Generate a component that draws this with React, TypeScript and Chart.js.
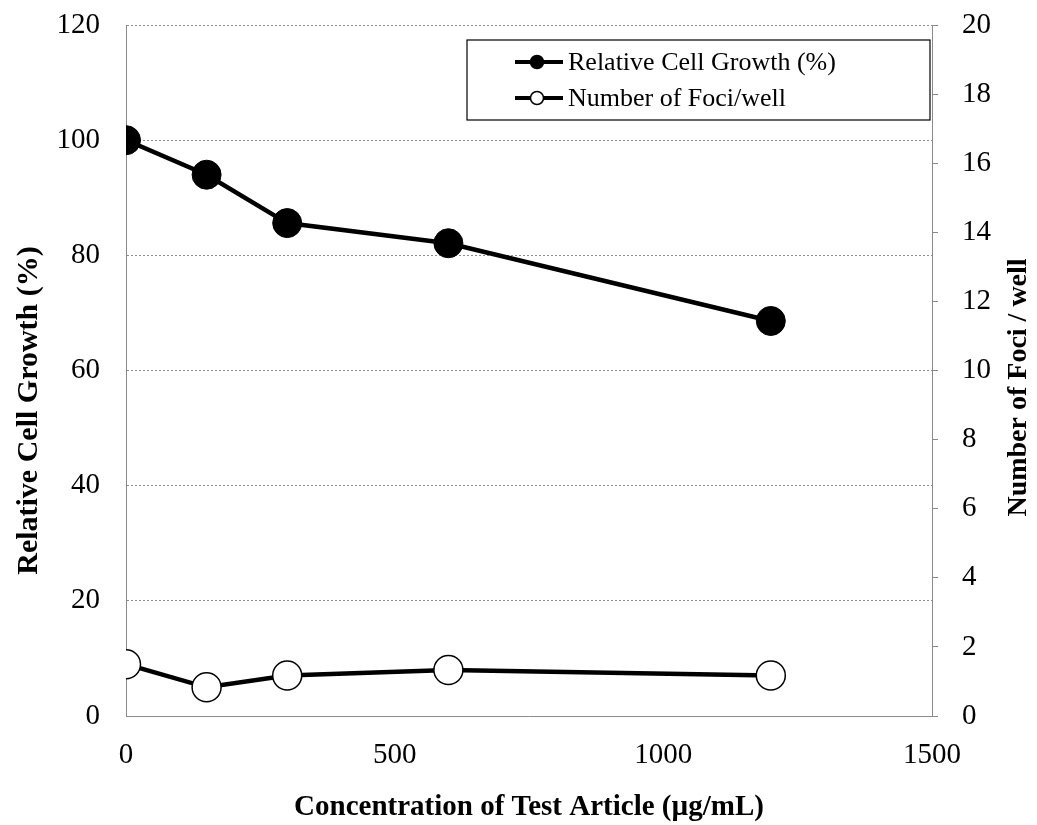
import React, { useEffect, useRef } from "react";
import { Chart, registerables } from "chart.js";

Chart.register(...registerables);

const concentrations = [0, 150, 300, 600, 1200];
const relativeGrowth = [100, 94, 85.6, 82.1, 68.6];
const fociPerWell = [1.5, 0.83, 1.17, 1.33, 1.17];
const xTicks = [0, 500, 1000, 1500];
const growthLabel = "Relative Cell Growth (%)";
const fociLabel = "Number of Foci/well";
const leftTitle = "Relative Cell Growth (%)";
const rightTitle = "Number of Foci / well";
const bottomTitle = "Concentration of Test Article (µg/mL)";

const SERIF = "'Liberation Serif', 'Times New Roman', serif";

const legendPlugin = {
  id: "boxLegend",
  afterDraw(chart: any) {
    const ctx = chart.ctx;
    const ca = chart.chartArea;
    const x0 = ca.left + 341;
    const y0 = ca.top + 15;
    const w = ca.right - 2 - x0;
    const h = 80;
    ctx.save();
    ctx.fillStyle = "#fff";
    ctx.fillRect(x0, y0, w, h);
    ctx.strokeStyle = "#000";
    ctx.lineWidth = 1.2;
    ctx.strokeRect(x0, y0, w, h);
    const items = [
      { label: growthLabel, fill: "#000" },
      { label: fociLabel, fill: "#fff" },
    ];
    items.forEach((it, i) => {
      const cy = y0 + 22 + i * 36;
      const lx = x0 + 48;
      ctx.strokeStyle = "#000";
      ctx.lineWidth = 4;
      ctx.beginPath();
      ctx.moveTo(lx, cy);
      ctx.lineTo(lx + 48, cy);
      ctx.stroke();
      ctx.beginPath();
      ctx.arc(lx + 22, cy, 6.5, 0, Math.PI * 2);
      ctx.fillStyle = it.fill;
      ctx.fill();
      ctx.lineWidth = 1.5;
      ctx.stroke();
      ctx.fillStyle = "#000";
      ctx.font = "26px " + SERIF;
      ctx.textAlign = "left";
      ctx.textBaseline = "middle";
      ctx.fillText(it.label, lx + 53, cy + 1);
    });
    ctx.restore();
  },
};

const yTitlesPlugin = {
  id: "yTitles",
  afterDraw(chart: any) {
    const ctx = chart.ctx;
    const ca = chart.chartArea;
    const mid = (ca.top + ca.bottom) / 2;
    ctx.save();
    ctx.fillStyle = "#000";
    ctx.textAlign = "center";
    ctx.textBaseline = "middle";
    ctx.save();
    ctx.translate(29, mid + 40);
    ctx.rotate(-Math.PI / 2);
    ctx.font = "bold 30px " + SERIF;
    ctx.fillText(leftTitle, 0, 0);
    ctx.restore();
    ctx.save();
    ctx.translate(chart.width - 18, mid + 17);
    ctx.rotate(-Math.PI / 2);
    ctx.font = "bold 28px " + SERIF;
    ctx.fillText(rightTitle, 0, 0);
    ctx.restore();
    ctx.restore();
  },
};

const fixVertical = (width: number) => (s: any) => {
  s.width = width;
  s.paddingTop = 25;
  s.paddingBottom = 0;
};

export default function App() {
  const ref = useRef<HTMLCanvasElement | null>(null);
  useEffect(() => {
    document.body.style.margin = "0";
    const canvas = ref.current;
    if (!canvas) return;
    const chart = new Chart(canvas, {
      type: "line",
      data: {
        datasets: [
          {
            label: growthLabel,
            data: concentrations.map((c, i) => ({ x: c, y: relativeGrowth[i] })),
            yAxisID: "y",
            borderColor: "#000",
            borderWidth: 4.5,
            backgroundColor: "#000",
            pointBackgroundColor: "#000",
            pointBorderColor: "#000",
            pointRadius: 14.5,
            pointBorderWidth: 1,
            tension: 0,
          },
          {
            label: fociLabel,
            data: concentrations.map((c, i) => ({ x: c, y: fociPerWell[i] })),
            yAxisID: "y1",
            borderColor: "#000",
            borderWidth: 4.5,
            backgroundColor: "#fff",
            pointBackgroundColor: "#fff",
            pointBorderColor: "#000",
            pointRadius: 14.5,
            pointBorderWidth: 1.5,
            tension: 0,
          },
        ],
      },
      options: {
        animation: false,
        responsive: false,
        maintainAspectRatio: false,
        layout: { padding: { top: 0, left: 0, right: 0, bottom: 0 } },
        plugins: {
          legend: { display: false },
          tooltip: { enabled: false },
        },
        scales: {
          x: {
            type: "linear",
            min: 0,
            max: 1500,
            afterFit: (s: any) => {
              s.height = 109;
            },
            afterBuildTicks: (s: any) => {
              s.ticks = xTicks.map((v) => ({ value: v }));
            },
            grid: { display: false, drawTicks: false },
            border: { display: true, color: "#8a8a8a", width: 1 },
            ticks: {
              color: "#000",
              font: { family: SERIF, size: 29 },
              padding: 22,
              maxRotation: 0,
              callback: (v: any) => String(v),
            },
            title: {
              display: true,
              text: bottomTitle,
              color: "#000",
              font: { family: SERIF, size: 29, weight: "bold" },
              padding: { top: 5, bottom: 0 },
            },
          },
          y: {
            position: "left",
            min: 0,
            max: 120,
            afterFit: fixVertical(126),
            ticks: {
              stepSize: 20,
              color: "#000",
              font: { family: SERIF, size: 29 },
              padding: 26,
            },
            grid: {
              color: (c: any) => (c.tick && c.tick.value === 0 ? "rgba(0,0,0,0)" : "#8c8c8c"),
              lineWidth: 1,
              drawTicks: false,
            },
            border: { display: true, color: "#8a8a8a", width: 1, dash: [2, 2] },
            title: { display: false },
          },
          y1: {
            position: "right",
            min: 0,
            max: 20,
            afterFit: fixVertical(105),
            ticks: {
              stepSize: 2,
              color: "#000",
              font: { family: SERIF, size: 29 },
              padding: 24,
            },
            grid: {
              drawOnChartArea: false,
              drawTicks: true,
              tickLength: 6,
              color: "#8a8a8a",
            },
            border: { display: true, color: "#8a8a8a", width: 1 },
            title: { display: false },
          },
        },
      },
      plugins: [legendPlugin, yTitlesPlugin],
    } as any);
    return () => chart.destroy();
  }, []);
  return (
    <div style={{ position: "absolute", left: 0, top: 0, width: 1037, height: 825 }}>
      <canvas ref={ref} width={1037} height={825} style={{ display: "block" }} />
    </div>
  );
}
